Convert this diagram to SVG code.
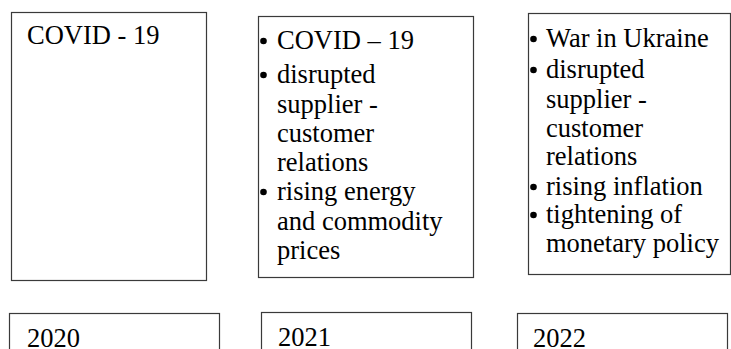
<svg xmlns="http://www.w3.org/2000/svg" width="731" height="349" viewBox="0 0 731 349">
<style>
.box{fill:#fff;stroke:#3a3a3a;stroke-width:1.2}
.t{font-family:'Liberation Serif','Times New Roman',Tinos,'DejaVu Serif',serif;font-size:26.5px;fill:#000}
.b{fill:#000}
</style>
<rect width="731" height="349" fill="#fff"/>
<g id="connectors"></g>
<g id="event2020">
<rect class="box" x="11.5" y="12.5" width="195" height="268"/>
<text class="t" x="27" y="44" font-family="Liberation Serif, serif">COVID - 19</text>
</g>
<g id="event2021">
<rect class="box" x="258.5" y="16.5" width="215" height="261"/>
<circle class="b" cx="263.5" cy="41" r="3.3"/>
<text class="t" x="277" y="49">COVID – 19</text>
<circle class="b" cx="263.5" cy="75" r="3.3"/>
<text class="t" x="277" y="83">disrupted</text>
<text class="t" x="277" y="113">supplier -</text>
<text class="t" x="277" y="142">customer</text>
<text class="t" x="277" y="171">relations</text>
<circle class="b" cx="263.5" cy="192" r="3.3"/>
<text class="t" x="277" y="200">rising energy</text>
<text class="t" x="277" y="230">and commodity</text>
<text class="t" x="277" y="259">prices</text>
</g>
<g id="event2022">
<rect class="box" x="528.5" y="13.5" width="202" height="261"/>
<circle class="b" cx="533.5" cy="39" r="3.3"/>
<text class="t" x="546" y="47">War in Ukraine</text>
<circle class="b" cx="533.5" cy="70" r="3.3"/>
<text class="t" x="546" y="78">disrupted</text>
<text class="t" x="546" y="108">supplier -</text>
<text class="t" x="546" y="137">customer</text>
<text class="t" x="546" y="165">relations</text>
<circle class="b" cx="533.5" cy="187" r="3.3"/>
<text class="t" x="546" y="195">rising inflation</text>
<circle class="b" cx="533.5" cy="215" r="3.3"/>
<text class="t" x="546" y="223">tightening of</text>
<text class="t" x="546" y="252">monetary policy</text>
</g>
<g id="year2020">
<rect class="box" x="9.5" y="313.5" width="210" height="50"/>
<text class="t" x="27" y="347">2020</text>
</g>
<g id="year2021">
<rect class="box" x="261.5" y="312.5" width="210" height="50"/>
<text class="t" x="278" y="346">2021</text>
</g>
<g id="year2022">
<rect class="box" x="517.5" y="313.5" width="210" height="50"/>
<text class="t" x="533" y="347">2022</text>
</g>
</svg>
